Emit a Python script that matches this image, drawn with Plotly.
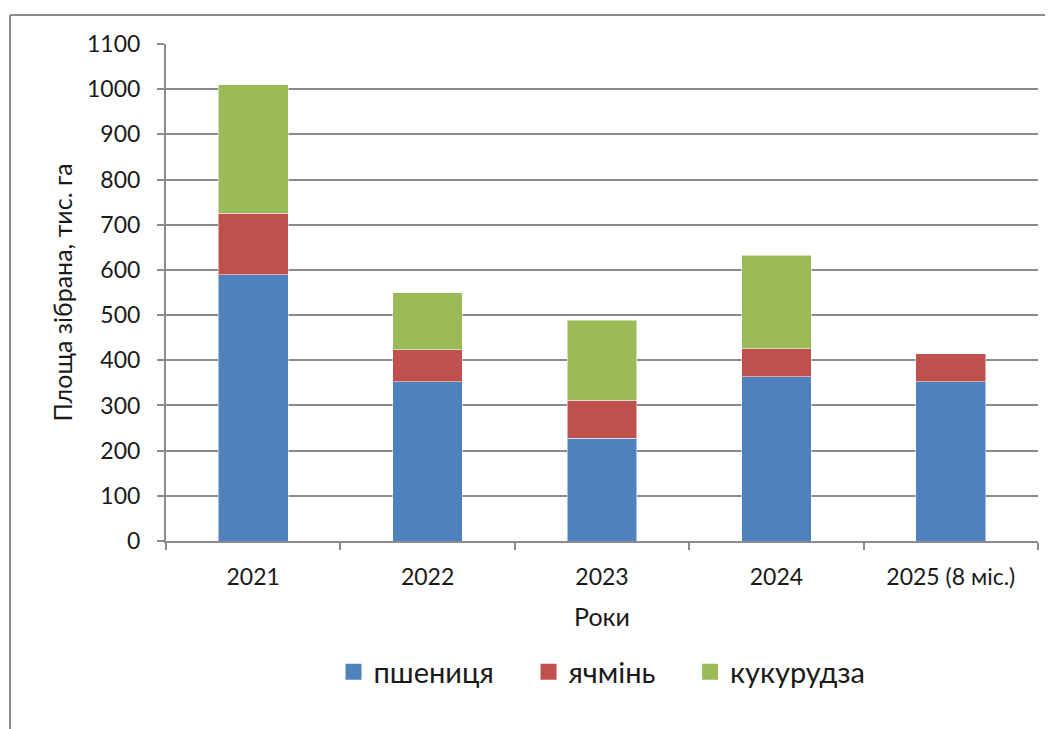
import plotly.graph_objects as go

years = ["2021", "2022", "2023", "2024", "2025 (8 міс.)"]
wheat = [589, 352, 227, 363, 352]
barley = [136, 71, 85, 62, 62]
corn = [285, 126, 177, 207, 0]

series_names = ["пшениця", "ячмінь", "кукурудза"]
colors = ["#4F81BD", "#C0504D", "#9BBB59"]
y_ticks = list(range(0, 1101, 100))

# page body has an 8px margin, so the figure is a bit smaller than the window
OFF = 8
W, H = 1045, 721
L, R, T, B = 158, 15, 36, 188
pw, ph = W - L - R, H - T - B

fig = go.Figure()
for name, vals, c in zip(series_names, [wheat, barley, corn], colors):
    fig.add_trace(go.Bar(x=years, y=vals, name=name, showlegend=False,
                         marker=dict(color=c, line=dict(color="rgba(255,255,255,0.5)", width=1))))
# legend entries with larger square keys (non-breaking spaces widen the gap between items)
pad = "\u00a0" * 4
for i, (name, c) in enumerate(zip(series_names, colors)):
    label = name + (pad if i < len(series_names) - 1 else "")
    fig.add_trace(go.Scatter(x=[None], y=[None], mode="markers", name=label,
                             marker=dict(symbol="square", size=18, color=c)))

font = "Lato, 'Open Sans', sans-serif"
grid = "#8c8c8c"

def px_x(p):
    return (p - OFF - L) / pw

def px_y(p):
    return (H - B - (p - OFF)) / ph

fig.update_layout(
    width=W, height=H,
    barmode="stack", bargap=0.6,
    plot_bgcolor="white", paper_bgcolor="white",
    margin=dict(l=L, r=R, t=T, b=B, autoexpand=False),
    font=dict(family=font, size=23, color="#1a1a1a"),
    showlegend=True,
    legend=dict(orientation="h", x=0.5, xanchor="center",
                y=px_y(672), yanchor="middle",
                font=dict(size=29), itemwidth=30,
                traceorder="normal"),
    xaxis=dict(
        title=dict(text="Роки", font=dict(size=25), standoff=20),
        showline=True, linecolor=grid, linewidth=2,
        ticks="outside", tickson="boundaries", ticklen=7, tickcolor=grid, tickwidth=2,
        ticklabelstandoff=14,
        showgrid=False,
    ),
    yaxis=dict(
        title=dict(text="Площа зібрана, тис. га", font=dict(size=25), standoff=7),
        range=[0, 1100], tickvals=y_ticks, ticktext=[str(v) for v in y_ticks],
        showline=True, linecolor=grid, linewidth=2,
        ticks="outside", ticklen=7, tickcolor=grid, tickwidth=2,
        ticklabelstandoff=12,
        showgrid=True, gridcolor=grid, gridwidth=2,
        zeroline=False,
    ),
    shapes=[
        dict(type="line", xref="paper", yref="paper",
             x0=px_x(10), x1=px_x(10), y0=px_y(15), y1=px_y(740),
             line=dict(color=grid, width=2)),
        dict(type="line", xref="paper", yref="paper",
             x0=px_x(10), x1=px_x(1060), y0=px_y(15), y1=px_y(15),
             line=dict(color=grid, width=2)),
    ],
)

fig.write_html("out.html")
